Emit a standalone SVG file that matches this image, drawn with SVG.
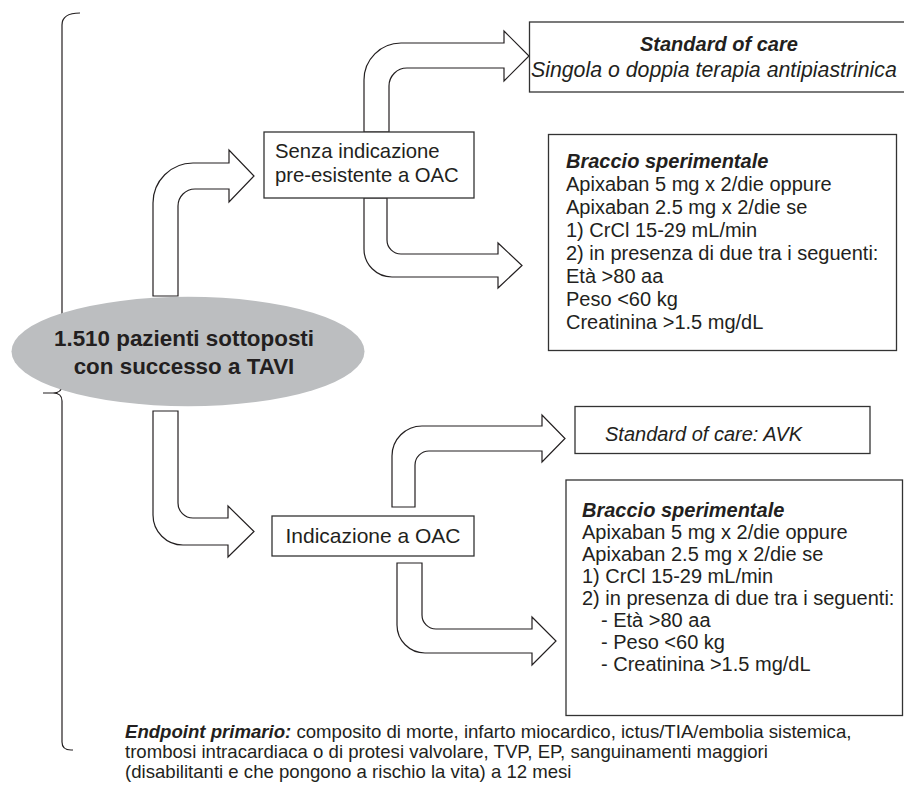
<svg xmlns="http://www.w3.org/2000/svg" width="904" height="804" viewBox="0 0 904 804">
<style>
  .txt { font-family: "Liberation Sans", Arial, Helvetica, sans-serif; fill: #231f20; }
  .box { fill: #ffffff; stroke: #333333; stroke-width: 1.3; }
  .arrow { fill: #ffffff; stroke: #231f20; stroke-width: 1.2; stroke-linejoin: miter; }
  .brace { fill: none; stroke: #231f20; stroke-width: 1.2; }
  .b { font-weight: bold; }
  .i { font-style: italic; }
</style>
<rect x="0" y="0" width="904" height="804" fill="#ffffff"/>

<g id="brace">
  <path class="brace" d="M80,13 Q62,13 62,25 L62,385 Q62,393 53,393 L43,393 M53,393 Q62,393 62,401 L62,742 Q62,750 71,750 L73,750"/>
</g>

<g id="connectors">
  <path class="arrow" d="M153,296 L153,203 A40,40 0 0 1 193,163 L229,163 L229,150 L254,176 L229,202 L229,189 L195,189 A17,17 0 0 0 178,206 L178,296 Z"/>
  <path class="arrow" d="M364,132 L364,80 A37,37 0 0 1 401,43 L504,43 L504,31 L529,56 L504,81 L504,68 L407,68 A18,18 0 0 0 389,86 L389,132 Z"/>
  <path class="arrow" d="M364,198 L364,249 A28,28 0 0 0 392,277 L498,277 L498,288 L522,265.5 L498,243 L498,254 L401,254 A14,14 0 0 1 387,240 L387,198 Z"/>
  <path class="arrow" d="M153,411 L153,515 A30,30 0 0 0 183,545 L228,545 L228,557 L254,531.5 L228,506 L228,518 L193,518 A15,15 0 0 1 178,503 L178,411 Z"/>
  <path class="arrow" d="M392,507 L392,456 A30,30 0 0 1 422,426 L542,426 L542,415 L565,438.5 L542,462 L542,451 L429,451 A14,14 0 0 0 415,465 L415,507 Z"/>
  <path class="arrow" d="M397,563 L397,625 A28,28 0 0 0 425,653 L532,653 L532,665 L556,641 L532,617 L532,629 L436,629 A14,14 0 0 1 422,615 L422,563 Z"/>
</g>

<g id="patients">
  <ellipse cx="188" cy="351.5" rx="176.5" ry="54.7" fill="#bcbec0"/>
  <text class="txt b" x="184" y="346" font-size="22.4" text-anchor="middle">1.510 pazienti sottoposti</text>
  <text class="txt b" x="184" y="373.5" font-size="22.4" text-anchor="middle">con successo a TAVI</text>
</g>

<g id="senza-oac">
  <rect class="box" x="264" y="132" width="210" height="66"/>
  <text class="txt" x="275" y="158" font-size="20.3">Senza indicazione</text>
  <text class="txt" x="275" y="181.5" font-size="20.3">pre-esistente a OAC</text>
</g>

<g id="soc-antipiastrinica">
  <rect class="box" x="529.5" y="22" width="390" height="70"/>
  <text class="txt b i" x="640" y="51" font-size="20">Standard of care</text>
  <text class="txt i" x="531" y="76.5" font-size="21.3">Singola o doppia terapia antipiastrinica</text>
</g>

<g id="braccio-1">
  <rect class="box" x="548.5" y="134.5" width="348" height="216"/>
  <text class="txt" font-size="20">
    <tspan class="b i" x="566" y="168">Braccio sperimentale</tspan>
    <tspan x="566" y="191">Apixaban 5 mg x 2/die oppure</tspan>
    <tspan x="566" y="214">Apixaban 2.5 mg x 2/die se</tspan>
    <tspan x="566" y="237">1) CrCl 15-29 mL/min</tspan>
    <tspan x="566" y="260">2) in presenza di due tra i seguenti:</tspan>
    <tspan x="566" y="283">Età &gt;80 aa</tspan>
    <tspan x="566" y="306">Peso &lt;60 kg</tspan>
    <tspan x="566" y="329">Creatinina &gt;1.5 mg/dL</tspan>
  </text>
</g>

<g id="con-oac">
  <rect class="box" x="272" y="516" width="202" height="40"/>
  <text class="txt" x="373" y="543" font-size="21" text-anchor="middle">Indicazione a OAC</text>
</g>

<g id="soc-avk">
  <rect class="box" x="575" y="406.5" width="295" height="47"/>
  <text class="txt i" x="605" y="441" font-size="20">Standard of care: AVK</text>
</g>

<g id="braccio-2">
  <rect class="box" x="566" y="480" width="336.5" height="235.5"/>
  <text class="txt" font-size="20">
    <tspan class="b i" x="582" y="517">Braccio sperimentale</tspan>
    <tspan x="582" y="539">Apixaban 5 mg x 2/die oppure</tspan>
    <tspan x="582" y="561">Apixaban 2.5 mg x 2/die se</tspan>
    <tspan x="582" y="583">1) CrCl 15-29 mL/min</tspan>
    <tspan x="582" y="605">2) in presenza di due tra i seguenti:</tspan>
    <tspan x="601" y="627">- Età &gt;80 aa</tspan>
    <tspan x="601" y="649">- Peso &lt;60 kg</tspan>
    <tspan x="601" y="671">- Creatinina &gt;1.5 mg/dL</tspan>
  </text>
</g>

<g id="endpoint">
  <text class="txt" font-size="18.6">
    <tspan x="125" y="738"><tspan class="b i">Endpoint primario:</tspan> composito di morte, infarto miocardico, ictus/TIA/embolia sistemica,</tspan>
    <tspan x="125" y="758">trombosi intracardiaca o di protesi valvolare, TVP, EP, sanguinamenti maggiori</tspan>
    <tspan x="125" y="777.5">(disabilitanti e che pongono a rischio la vita) a 12 mesi</tspan>
  </text>
</g>
</svg>
